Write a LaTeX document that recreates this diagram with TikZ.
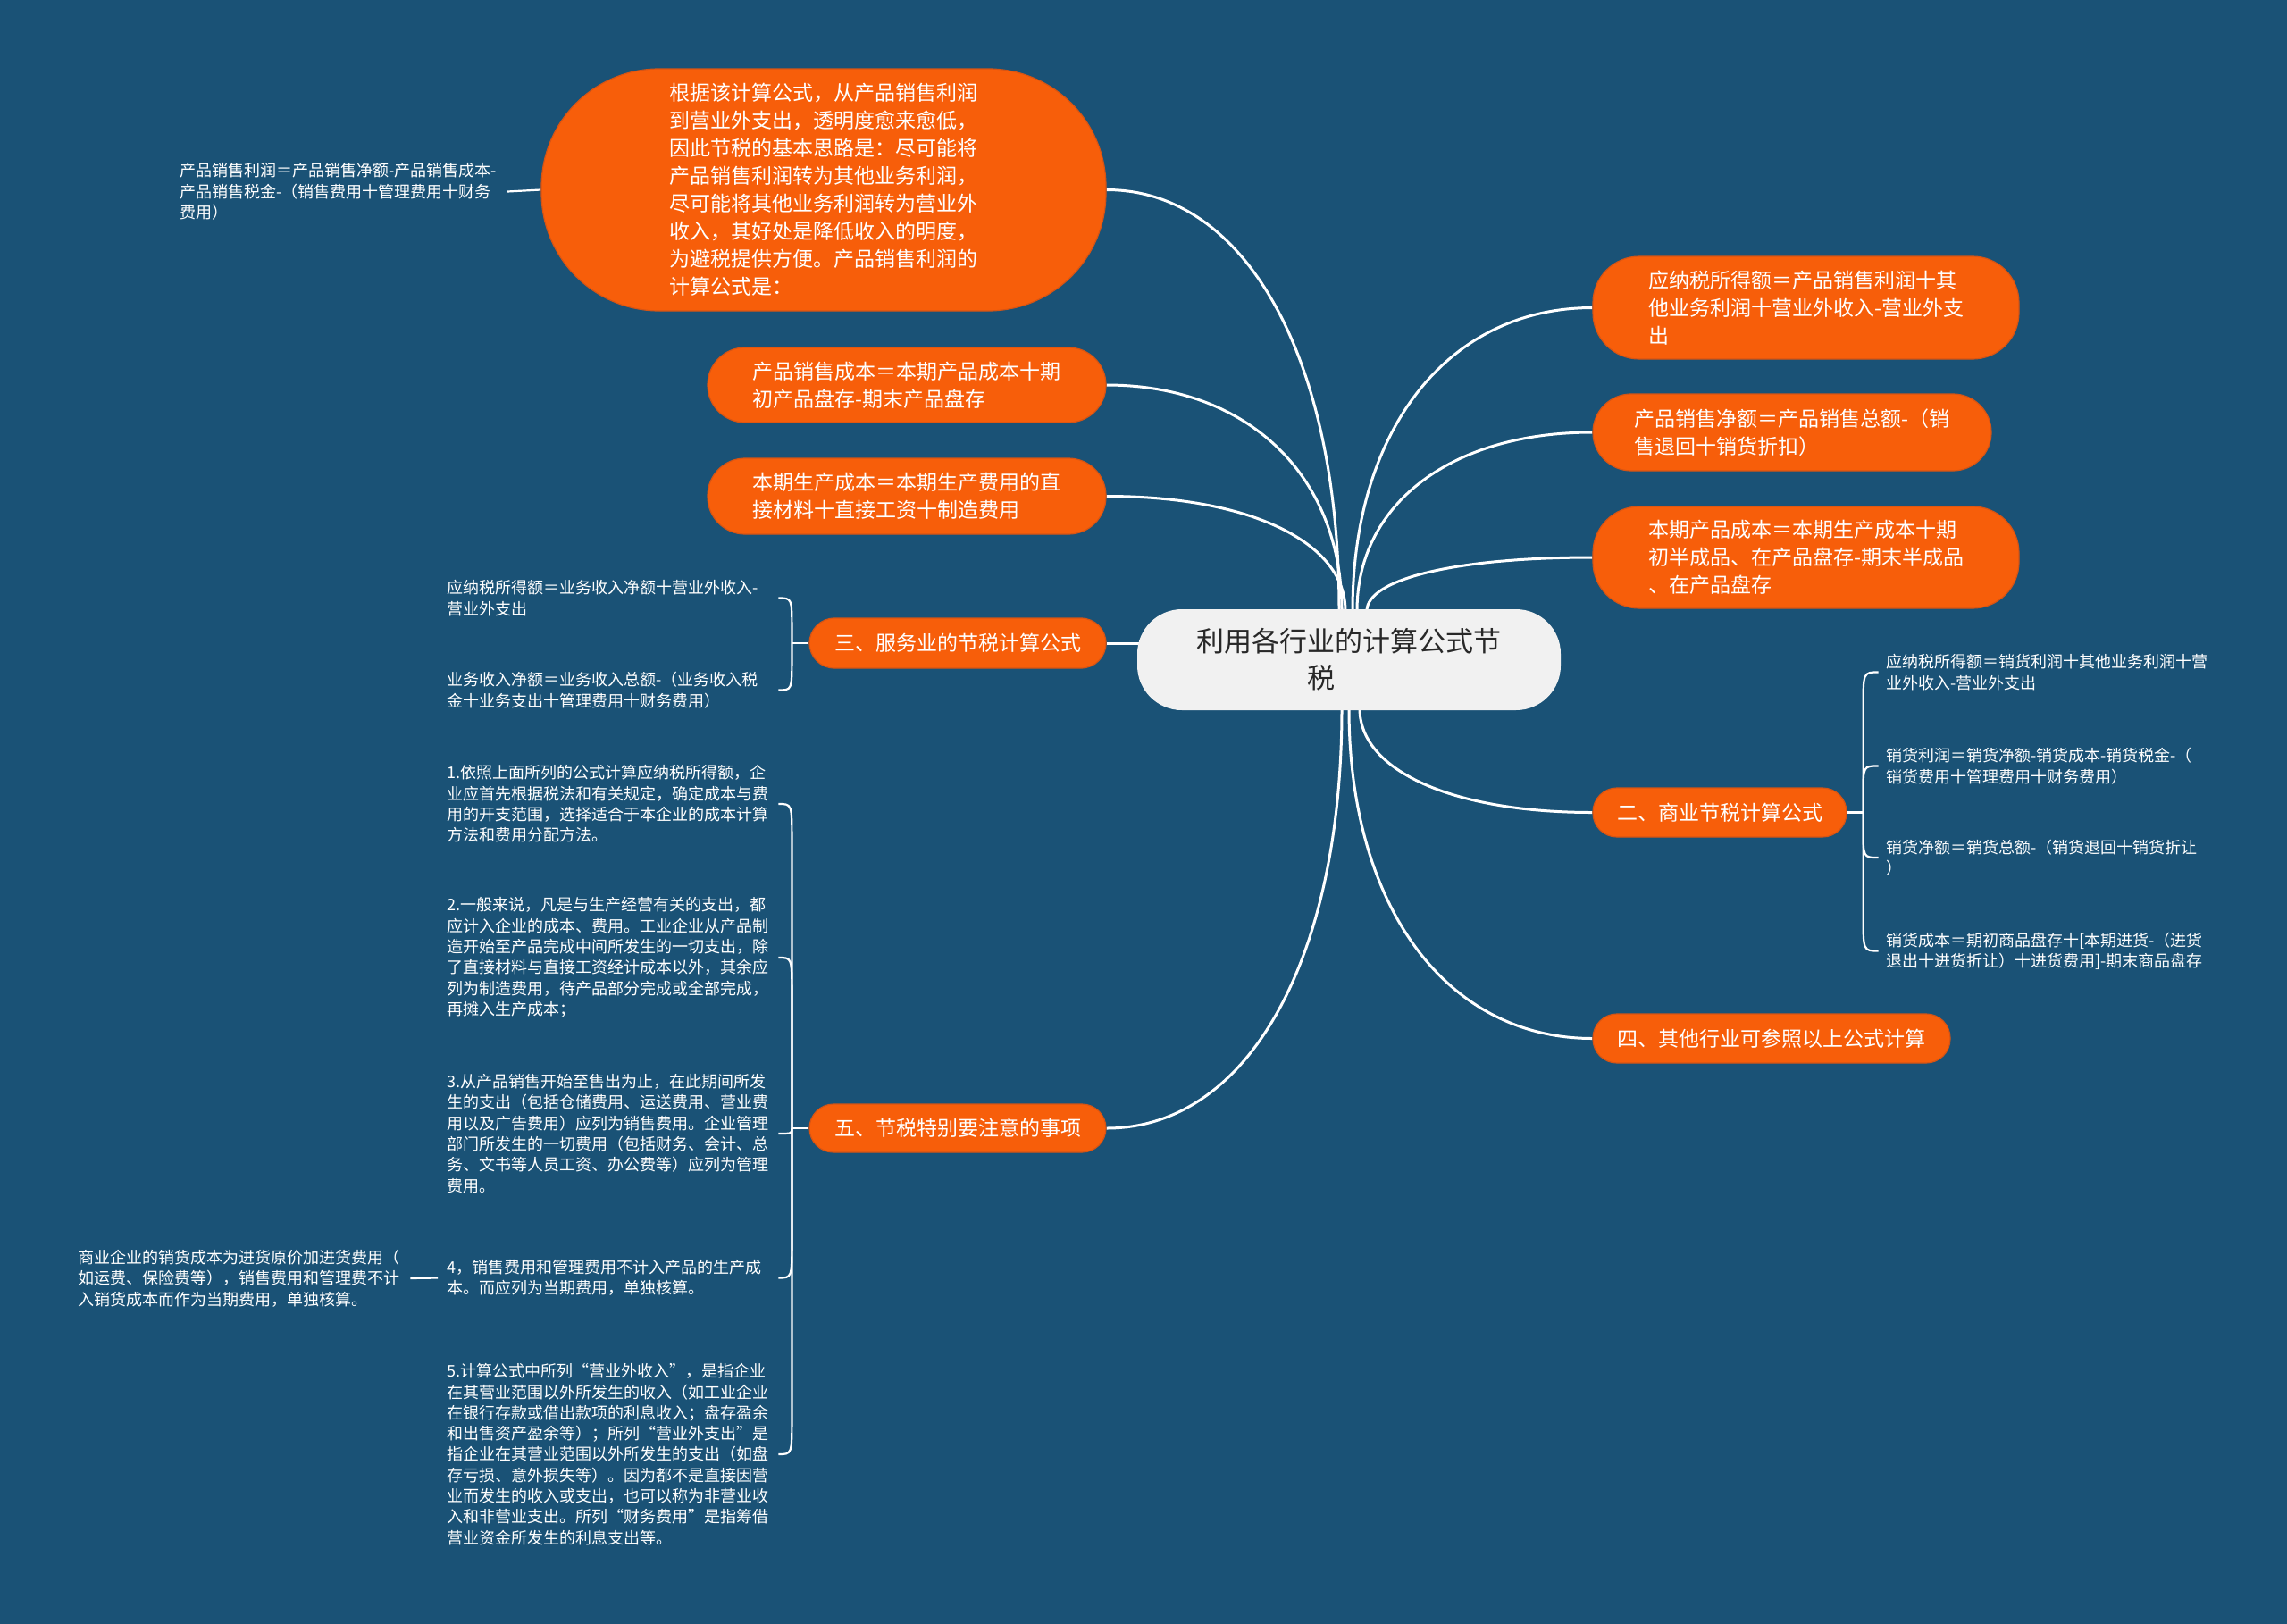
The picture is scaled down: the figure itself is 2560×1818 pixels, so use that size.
\documentclass[tikz,border=0pt]{standalone}
\usepackage{fontspec}
\setmainfont{Noto Sans CJK SC}
\usetikzlibrary{calc,backgrounds}
\definecolor{bgc}{RGB}{26,82,118}
\definecolor{orc}{RGB}{247,94,10}
\definecolor{ord}{RGB}{214,84,20}
\definecolor{rootc}{RGB}{241,241,241}
\definecolor{roott}{RGB}{40,40,40}
\tikzset{
  onode/.style={fill=orc, draw=ord, line width=1.2pt, text=white, align=left, inner sep=0pt, font=\fontsize{23}{31}\selectfont},
  leaf/.style={text=white, align=left, inner sep=0pt, anchor=west, font=\fontsize{18}{23.3}\selectfont},
  conn/.style={draw=white, line width=3pt},
  bconn/.style={draw=white, line width=2.2pt},
}
\newcommand\mindcurve[2]{\draw[conn] (#1) .. controls ($(#1)!0.6!(#1|-#2)$) and ($(#2)!0.6!(#2-|#1)$) .. (#2);}
\begin{document}
\begin{tikzpicture}[x=1pt,y=-1pt]
\useasboundingbox (0,0) rectangle (2560,1818);
\begin{scope}[on background layer]
\fill[bgc] (0,0) rectangle (2560,1818);
\end{scope}

% root
\node[fill=rootc, text=roott, minimum width=474pt, minimum height=113pt, rounded corners=50pt, align=center, inner sep=0pt, font=\fontsize{31}{41}\selectfont] (root) at (1510,738.5) {利用各行业的计算公式节\\税\hspace*{2em}};

% left branches
\node[onode, minimum width=632pt, minimum height=271pt, rounded corners=132pt] (b1) at (922,212.5) {根据该计算公式，从产品销售利润\\到营业外支出，透明度愈来愈低，\\因此节税的基本思路是：尽可能将\\产品销售利润转为其他业务利润，\\尽可能将其他业务利润转为营业外\\收入，其好处是降低收入的明度，\\为避税提供方便。产品销售利润的\\计算公式是：};
\node[onode, minimum width=446pt, minimum height=84pt, rounded corners=42pt] (b2) at (1015,431) {产品销售成本＝本期产品成本十期\\初产品盘存-期末产品盘存};
\node[onode, minimum width=446pt, minimum height=85pt, rounded corners=42pt] (b3) at (1015,555.5) {本期生产成本＝本期生产费用的直\\接材料十直接工资十制造费用};
\node[onode, minimum width=332pt, minimum height=56pt, rounded corners=28pt] (b4) at (1072,720) {三、服务业的节税计算公式};
\node[onode, minimum width=332pt, minimum height=54pt, rounded corners=27pt] (b5) at (1072,1263) {五、节税特别要注意的事项};

% right branches
\node[onode, minimum width=477pt, minimum height=115pt, rounded corners=52pt] (r1) at (2021.5,344.5) {应纳税所得额＝产品销售利润十其\\他业务利润十营业外收入-营业外支\\出};
\node[onode, minimum width=446pt, minimum height=86pt, rounded corners=43pt] (r2) at (2006,484) {产品销售净额＝产品销售总额-（销\\售退回十销货折扣）};
\node[onode, minimum width=477pt, minimum height=114pt, rounded corners=52pt] (r3) at (2021.5,624) {本期产品成本＝本期生产成本十期\\初半成品、在产品盘存-期末半成品\\、在产品盘存};
\node[onode, minimum width=284pt, minimum height=55pt, rounded corners=27pt] (r4) at (1925,909.5) {二、商业节税计算公式};
\node[onode, minimum width=400pt, minimum height=55pt, rounded corners=27pt] (r5) at (1983,1162.5) {四、其他行业可参照以上公式计算};

% leaves
\node[leaf] (l11) at (201,214.5) {产品销售利润＝产品销售净额-产品销售成本-\\产品销售税金-（销售费用十管理费用十财务\\费用）};
\node[leaf] (l31) at (500,669.5) {应纳税所得额＝业务收入净额十营业外收入-\\营业外支出};
\node[leaf] (l32) at (500,772.5) {业务收入净额＝业务收入总额-（业务收入税\\金十业务支出十管理费用十财务费用）};
\node[leaf] (l21) at (2111,752.5) {应纳税所得额＝销货利润十其他业务利润十营\\业外收入-营业外支出};
\node[leaf] (l22) at (2111,857.5) {销货利润＝销货净额-销货成本-销货税金-（\\销货费用十管理费用十财务费用）};
\node[leaf] (l23) at (2111,960) {销货净额＝销货总额-（销货退回十销货折让\\）};
\node[leaf] (l24) at (2111,1064.5) {销货成本＝期初商品盘存十[本期进货-（进货\\退出十进货折让）十进货费用]-期末商品盘存};
\node[leaf] (l51) at (500,900) {1.依照上面所列的公式计算应纳税所得额，企\\业应首先根据税法和有关规定，确定成本与费\\用的开支范围，选择适合于本企业的成本计算\\方法和费用分配方法。};
\node[leaf] (l52) at (500,1072) {2.一般来说，凡是与生产经营有关的支出，都\\应计入企业的成本、费用。工业企业从产品制\\造开始至产品完成中间所发生的一切支出，除\\了直接材料与直接工资经计成本以外，其余应\\列为制造费用，待产品部分完成或全部完成，\\再摊入生产成本；};
\node[leaf] (l53) at (500,1269) {3.从产品销售开始至售出为止，在此期间所发\\生的支出（包括仓储费用、运送费用、营业费\\用以及广告费用）应列为销售费用。企业管理\\部门所发生的一切费用（包括财务、会计、总\\务、文书等人员工资、办公费等）应列为管理\\费用。};
\node[leaf] (l54) at (500,1430.5) {4，销售费用和管理费用不计入产品的生产成\\本。而应列为当期费用，单独核算。};
\node[leaf] (l55) at (500,1628) {5.计算公式中所列“营业外收入”，是指企业\\在其营业范围以外所发生的收入（如工业企业\\在银行存款或借出款项的利息收入；盘存盈余\\和出售资产盈余等）；所列“营业外支出”是\\指企业在其营业范围以外所发生的支出（如盘\\存亏损、意外损失等）。因为都不是直接因营\\业而发生的收入或支出，也可以称为非营业收\\入和非营业支出。所列“财务费用”是指筹借\\营业资金所发生的利息支出等。};
\node[leaf] (l54c) at (87,1431) {商业企业的销货成本为进货原价加进货费用（\\如运费、保险费等），销售费用和管理费不计\\入销货成本而作为当期费用，单独核算。};

% connector anchor points
\coordinate (s1) at ($(root.north)+(-11,2)$);
\coordinate (s2) at ($(root.north)+(-8,2)$);
\coordinate (s3) at ($(root.north)+(-4,2)$);
\coordinate (s4) at ($(root.north)+(4,2)$);
\coordinate (s5) at ($(root.north)+(9,2)$);
\coordinate (s6) at ($(root.north)+(20,2)$);
\coordinate (t1) at ($(root.south)+(-8,-2)$);
\coordinate (t2) at ($(root.south)+(0,-2)$);
\coordinate (t3) at ($(root.south)+(12,-2)$);
\coordinate (k3) at ($(b4.west)+(-19,0)$);
\coordinate (k5) at ($(b5.west)+(-19,0)$);
\coordinate (k2) at ($(r4.east)+(18,0)$);

\begin{scope}[on background layer]
\mindcurve{s1}{b1.east}
\mindcurve{s2}{b2.east}
\mindcurve{s3}{b3.east}
\mindcurve{s4}{r1.west}
\mindcurve{s5}{r2.west}
\mindcurve{s6}{r3.west}
\mindcurve{t1}{b5.east}
\mindcurve{t2}{r5.west}
\mindcurve{t3}{r4.west}
\draw[conn] (b4.east) -- ($(b4.east -| root.west)+(15,0)$);
% brace of 三
\draw[bconn] (b4.west) -- (k3);
\draw[bconn] (k3) -- ($(k3|-l31.west)+(0,35)$) .. controls (k3|-l31.west) .. ($(k3|-l31.west)+(-15,0)$);
\draw[bconn] (k3) -- ($(k3|-l32.west)+(0,-35)$) .. controls (k3|-l32.west) .. ($(k3|-l32.west)+(-15,0)$);
% brace of 五
\draw[bconn] (b5.west) -- (k5);
\draw[bconn] (k5) -- ($(k5|-l51.west)+(0,40)$) .. controls (k5|-l51.west) .. ($(k5|-l51.west)+(-15,0)$);
\draw[bconn] (k5) -- ($(k5|-l52.west)+(0,40)$) .. controls (k5|-l52.west) .. ($(k5|-l52.west)+(-15,0)$);
\draw[bconn] (k5) .. controls (k5|-l53.west) .. ($(k5|-l53.west)+(-15,0)$);
\draw[bconn] (k5) -- ($(k5|-l54.west)+(0,-40)$) .. controls (k5|-l54.west) .. ($(k5|-l54.west)+(-15,0)$);
\draw[bconn] (k5) -- ($(k5|-l55.west)+(0,-40)$) .. controls (k5|-l55.west) .. ($(k5|-l55.west)+(-15,0)$);
% brace of 二
\draw[bconn] (r4.east) -- (k2);
\draw[bconn] (k2) -- ($(k2|-l21.west)+(0,40)$) .. controls (k2|-l21.west) .. ($(k2|-l21.west)+(17,0)$);
\draw[bconn] (k2) -- ($(k2|-l22.west)+(0,32)$) .. controls (k2|-l22.west) .. ($(k2|-l22.west)+(17,0)$);
\draw[bconn] (k2) -- ($(k2|-l23.west)+(0,-32)$) .. controls (k2|-l23.west) .. ($(k2|-l23.west)+(17,0)$);
\draw[bconn] (k2) -- ($(k2|-l24.west)+(0,-40)$) .. controls (k2|-l24.west) .. ($(k2|-l24.west)+(17,0)$);
% single lines
\draw[bconn] (b1.west) -- ($(l11.east)+(12,0)$);
\draw[bconn] ($(l54.west)+(-10,0)$) -- ($(l54c.east)+(12,0)$);
\end{scope}
\end{tikzpicture}
\end{document}
